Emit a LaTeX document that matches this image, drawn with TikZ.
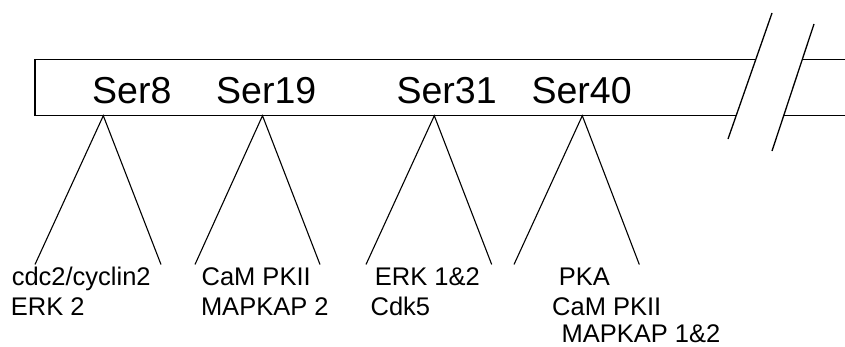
\documentclass[tikz,border=0pt]{standalone}
\usepackage{fontspec}
\setmainfont{Liberation Sans}
\tikzset{
  boxline/.style={line width=1.3pt, line cap=butt},
  leg/.style={line width=1.1pt},
  slashline/.style={line width=1.3pt},
  sitelabel/.style={anchor=base west, inner sep=0pt, font=\fontsize{37.5}{40}\selectfont},
  kinase/.style={anchor=base west, inner sep=0pt, font=\fontsize{25.5}{28}\selectfont},
}
\begin{document}
\begin{tikzpicture}[x=1pt,y=-1pt]
\useasboundingbox (0,0) rectangle (845,346);
% box corners and break points
\coordinate (bTL) at (35,59.3);
\coordinate (bBL) at (35,115.7);
\coordinate (tEndA) at (755.8,59.3);
\coordinate (bEndA) at (736,115.7);
\coordinate (tStartB) at (802.4,59.3);
\coordinate (bStartB) at (783.6,115.7);
\coordinate (tR) at (846,59.3);
\coordinate (bR) at (846,115.7);
\draw[boxline] (tEndA) -- (bTL) -- (bBL) -- (bEndA);
\draw[boxline] (tStartB) -- (tR);
\draw[boxline] (bStartB) -- (bR);
% break slashes
\coordinate (s1a) at (728,139); \coordinate (s1b) at (772,13);
\coordinate (s2a) at (772,151); \coordinate (s2b) at (814,24);
\draw[slashline] (s1a) -- (s1b);
\draw[slashline] (s2a) -- (s2b);
% site labels
\node[sitelabel] (ser8) at (92,103.3) {Ser8};
\node[sitelabel] (ser19) at (216,103.3) {Ser19};
\node[sitelabel] (ser31) at (396.4,103.3) {Ser31};
\node[sitelabel] (ser40) at (531.4,103.3) {Ser40};
% apexes and leg ends
\coordinate (a8) at (103.3,115.7);
\coordinate (l8) at (35,264.5); \coordinate (r8) at (161,264.5);
\coordinate (a19) at (262.5,115.7);
\coordinate (l19) at (195,264.5); \coordinate (r19) at (320,264.5);
\coordinate (a31) at (434.3,115.7);
\coordinate (l31) at (366,264.5); \coordinate (r31) at (491.7,264.5);
\coordinate (a40) at (582.3,115.7);
\coordinate (l40) at (514,264.5); \coordinate (r40) at (639.3,264.5);
\draw[leg] (l8) -- (a8) -- (r8);
\draw[leg] (l19) -- (a19) -- (r19);
\draw[leg] (l31) -- (a31) -- (r31);
\draw[leg] (l40) -- (a40) -- (r40);
% kinase labels
\node[kinase] (k8a) at (11.6,285) {cdc2/cyclin2};
\node[kinase] (k8b) at (10.7,315) {ERK 2};
\node[kinase] (k19a) at (201.4,285) {CaM PKII};
\node[kinase] (k19b) at (200.8,315) {MAPKAP 2};
\node[kinase] (k31a) at (374.7,285) {ERK 1\&2};
\node[kinase] (k31b) at (370.4,315) {Cdk5};
\node[kinase] (k40a) at (558.7,285) {PKA};
\node[kinase] (k40b) at (552,315) {CaM PKII};
\node[kinase] (k40c) at (561.4,342.5) {MAPKAP 1\&2};
\end{tikzpicture}
\end{document}
